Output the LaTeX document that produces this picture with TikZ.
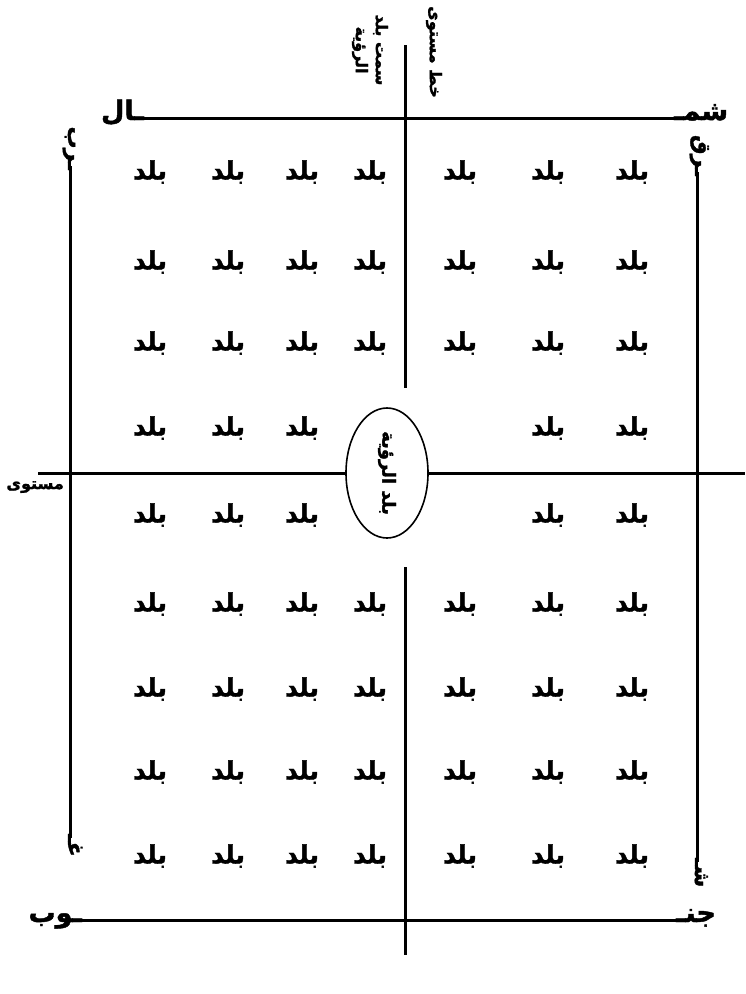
\documentclass[tikz,border=0pt]{standalone}
\usepackage{fontspec}
\usetikzlibrary{shapes.geometric}
\TeXXeTstate=1
\newfontfamily\arabicfont[Script=Arabic,FakeBold=1.6]{DejaVu Sans}
\newcommand{\ar}[1]{{\arabicfont\bfseries\beginR #1\endR}}
\begin{document}
\begin{tikzpicture}[x=1pt,y=-1pt,
  thick line/.style={line width=3pt},
  town/.style={inner sep=0pt,font=\fontsize{25}{27}\selectfont},
  lab/.style={inner sep=0pt,font=\fontsize{27}{29}\selectfont},
  vlab/.style={inner sep=0pt,rotate=-90,font=\fontsize{22}{24}\selectfont},
  small/.style={inner sep=0pt,font=\fontsize{16}{18}\selectfont,align=center}]
\useasboundingbox (0,0) rectangle (745,994);
% grid of towns
\foreach \r/\y in {1/172,2/262,3/343,4/428,5/515,6/604,7/689,8/772,9/856}{
  \foreach \c/\x in {1/150,2/228,3/302,4/370,5/460,6/548,7/632}{
    \pgfmathtruncatemacro{\skip}{(\r==4 && (\c==4 || \c==5)) || (\r==5 && (\c==4 || \c==5)) ? 1 : 0}
    \ifnum\skip=0
      \node[town] (t-\r-\c) at (\x,\y) {\ar{بلد}};
    \fi
  }
}
% central ellipse
\node[draw,ellipse,line width=1.6pt,minimum width=82pt,minimum height=130pt,inner sep=0pt] (city) at (387,473) {};
\node[small,rotate=-90,font=\fontsize{18}{20}\selectfont] (citylab) at (387,473) {\ar{بلد الرؤية}};
% north line
\coordinate (n1) at (140,118);
\coordinate (n2) at (678,118);
\node[lab,anchor=base east] (nL) at (144,120) {\ar{ـال}};
\node[lab,anchor=base west] (nR) at (674,120) {\ar{شمـ}};
\draw[thick line] (n1) -- (n2);
% south line
\coordinate (s1) at (78,920);
\coordinate (s2) at (680,920);
\node[lab,anchor=base east] (sL) at (82,922) {\ar{ـوب}};
\node[lab,anchor=base west] (sR) at (676,922) {\ar{جنـ}};
\draw[thick line] (s1) -- (s2);
% central vertical
\coordinate (v1) at (405,45);
\coordinate (v2) at (405,388);
\coordinate (v3) at (405,567);
\coordinate (v4) at (405,955);
\draw[thick line] (v1) -- (v2);
\draw[thick line] (v3) -- (v4);
% middle horizontal
\coordinate (h1) at (38,473);
\coordinate (h2) at (745,473);
\draw[thick line] (h1) -- (city.west);
\draw[thick line] (city.east) -- (h2);
\node[small,anchor=north east] (mst) at (64,481) {\ar{مستوى}};
% west line
\coordinate (w1) at (70,166);
\coordinate (w2) at (70,838);
\draw[thick line] (w1) -- (w2);
\node[vlab,anchor=base east] (wT) at (68,170) {\ar{ـرب}};
\node[vlab,anchor=base west] (wB) at (68,834) {\ar{غـ}};
% east line
\coordinate (e1) at (697,172);
\coordinate (e2) at (697,862);
\draw[thick line] (e1) -- (e2);
\node[vlab,anchor=base east] (eT) at (695,176) {\ar{ـرق}};
\node[vlab,anchor=base west] (eB) at (695,858) {\ar{شـ}};
% top rotated texts
\node[small,rotate=-90] (t1) at (434,52) {\ar{خط مستوى}};
\node[small,rotate=-90] (t2) at (370,50) {\ar{سمت بلد}\\[2pt]\ar{الرؤية}};
\end{tikzpicture}
\end{document}
